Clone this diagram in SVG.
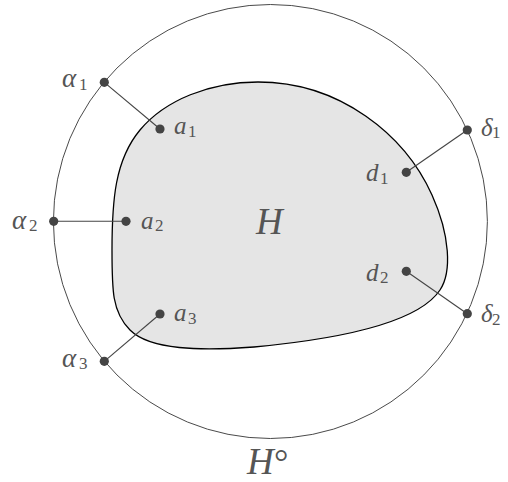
<svg xmlns="http://www.w3.org/2000/svg" width="508" height="482" viewBox="0 0 508 482">
<style>
.outer{fill:none;stroke:#4a4a4a;stroke-width:1}
.blob{fill:#e5e5e5;stroke:#000;stroke-width:1.3}
.ln{stroke:#444;stroke-width:1.1;fill:none}
.dot{fill:#444}
.m{font-family:"Liberation Serif","DejaVu Serif",serif;font-style:italic;font-size:25px;fill:#555}
.g{font-size:27px}
.s{font-family:"Liberation Serif","DejaVu Serif",serif;font-style:normal;font-size:17px;fill:#555}
.big{font-family:"Liberation Serif","DejaVu Serif",serif;font-style:italic;font-size:37px;fill:#555}
.deg{font-family:"Liberation Serif","DejaVu Serif",serif;font-size:36px;fill:#555}
</style>
<g id="Hcirc">
<circle class="outer" cx="270.4" cy="221.5" r="217"/>
</g>
<g id="H">
<path class="blob" d="M 258 82 C 340 82, 405 135, 432 195 C 450 235, 452 272, 440 290 C 420 320, 350 338, 254 347 C 200 351, 150 350, 130 330 C 112 312, 112 290, 112 250 C 112 200, 115 160, 140 130 C 165 100, 210 82, 258 82 Z"/>
<text class="big" x="256" y="234">H</text>
</g>
<g id="connectors">
<line class="ln" x1="104.3" y1="82.3" x2="160" y2="129"/>
<line class="ln" x1="53.7" y1="221.3" x2="126" y2="221.3"/>
<line class="ln" x1="104.3" y1="361.3" x2="160" y2="314"/>
<line class="ln" x1="467.3" y1="130" x2="406.3" y2="172.3"/>
<line class="ln" x1="467.3" y1="313.7" x2="406.3" y2="271.3"/>
</g>
<g id="alpha1"><circle class="dot" cx="104.3" cy="82.3" r="4.6"/><text class="m g" x="62" y="87">α</text><text class="s" x="79" y="89.5">1</text></g>
<g id="a1"><circle class="dot" cx="160" cy="129" r="4.6"/><text class="m" x="174" y="134">a</text><text class="s" x="188" y="136.5">1</text></g>
<g id="alpha2"><circle class="dot" cx="53.7" cy="221.3" r="4.6"/><text class="m g" x="12" y="228.5">α</text><text class="s" x="29" y="231">2</text></g>
<g id="a2"><circle class="dot" cx="126" cy="221.3" r="4.6"/><text class="m" x="141" y="228.5">a</text><text class="s" x="155" y="231">2</text></g>
<g id="alpha3"><circle class="dot" cx="104.3" cy="361.3" r="4.6"/><text class="m g" x="62" y="366.5">α</text><text class="s" x="79" y="369">3</text></g>
<g id="a3"><circle class="dot" cx="160" cy="314" r="4.6"/><text class="m" x="174" y="321">a</text><text class="s" x="188" y="323.5">3</text></g>
<g id="delta1"><circle class="dot" cx="467.3" cy="130" r="4.6"/><text class="m" x="481" y="135.5">δ</text><text class="s" x="492" y="138">1</text></g>
<g id="d1"><circle class="dot" cx="406.3" cy="172.3" r="4.6"/><text class="m" x="366" y="181">d</text><text class="s" x="380" y="183.5">1</text></g>
<g id="delta2"><circle class="dot" cx="467.3" cy="313.7" r="4.6"/><text class="m" x="481" y="322">δ</text><text class="s" x="492" y="324.5">2</text></g>
<g id="d2"><circle class="dot" cx="406.3" cy="271.3" r="4.6"/><text class="m" x="366" y="280.5">d</text><text class="s" x="380" y="283">2</text></g>
<g id="Hcirc-label"><text class="big" x="247" y="474">H</text><text class="deg" x="274" y="474">°</text></g>
</svg>
